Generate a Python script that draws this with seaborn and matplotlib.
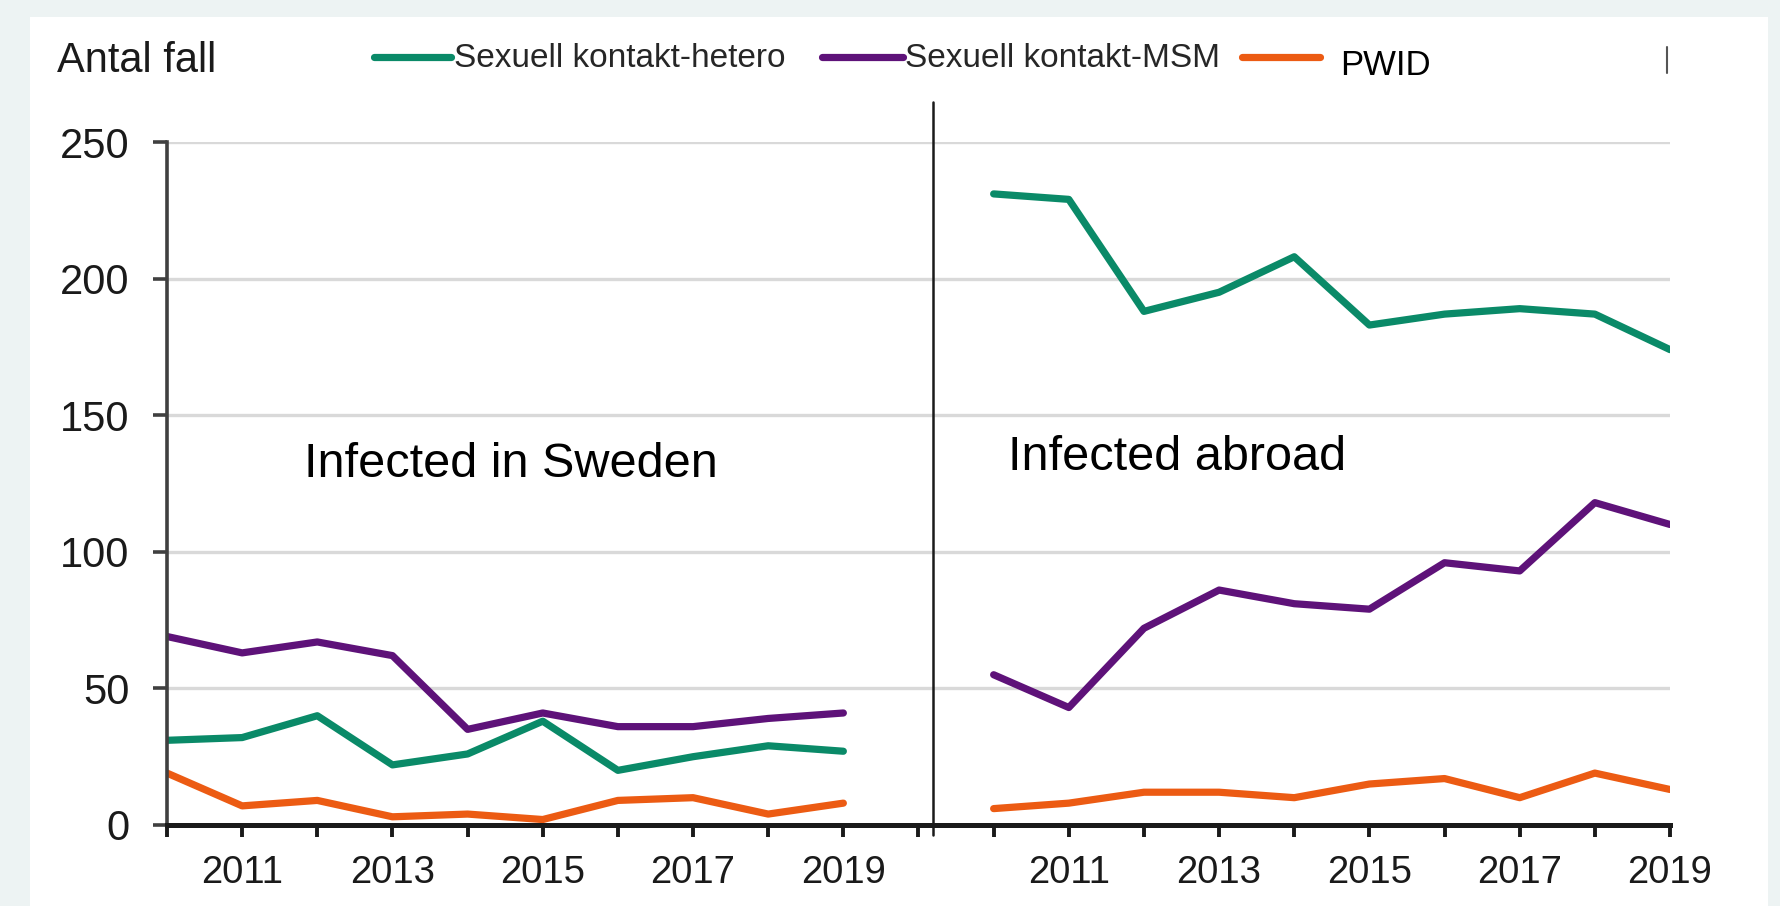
import matplotlib
matplotlib.use("Agg")
import numpy as np
import pandas as pd
import seaborn as sn
import matplotlib.pyplot as plt
from matplotlib.lines import Line2D
from matplotlib.patches import Rectangle

# data
years = list(range(2010, 2020))
series_names = ["Sexuell kontakt-hetero", "Sexuell kontakt-MSM", "PWID"]

sweden_hetero = [31, 32, 40, 22, 26, 38, 20, 25, 29, 27]
sweden_msm = [69, 63, 67, 62, 35, 41, 36, 36, 39, 41]
sweden_pwid = [19, 7, 9, 3, 4, 2, 9, 10, 4, 8]

abroad_hetero = [231, 229, 188, 195, 208, 183, 187, 189, 187, 174]
abroad_msm = [55, 43, 72, 86, 81, 79, 96, 93, 118, 110]
abroad_pwid = [6, 8, 12, 12, 10, 15, 17, 10, 19, 13]

left_labels = ["", "2011", "", "2013", "", "2015", "", "2017", "", "2019", ""]
right_labels = ["", "2011", "", "2013", "", "2015", "", "2017", "", "2019"]
yticks = [0, 50, 100, 150, 200, 250]

colors = ["#0A8A68", "#5E1279", "#EC5B13"]

# long table, right panel shifted one empty slot after the left one
rows = []
panels = [("Sweden", 0, [sweden_hetero, sweden_msm, sweden_pwid]),
          ("abroad", 11, [abroad_hetero, abroad_msm, abroad_pwid])]
for panel, offset, vals_list in panels:
    for name, vals in zip(series_names, vals_list):
        for yr, v in zip(years, vals):
            rows.append({"pos": yr - years[0] + offset, "value": v,
                         "series": name, "panel": panel})
df = pd.DataFrame(rows)

sn.set_style("white")
plt.rcParams["font.family"] = ["Liberation Sans", "DejaVu Sans"]

W, H = 1781, 906
fig = plt.figure(figsize=(W / 100, H / 100), dpi=100, facecolor="#EDF3F3")
fig.patches.append(Rectangle((30 / W, 0), (1768 - 30) / W, (906 - 17) / H,
                             transform=fig.transFigure, facecolor="white",
                             edgecolor="none", zorder=-10))

ax = fig.add_axes([167 / W, (H - 825) / H, (1670 - 167) / W, (825 - 142) / H])
ax.set_facecolor("none")

sn.lineplot(data=df, x="pos", y="value", hue="series", units="panel",
            estimator=None, hue_order=series_names, palette=colors,
            legend=False, ax=ax)
for line in ax.lines:
    line.set_linewidth(5.2)
    line.set_solid_joinstyle("round")

ax.set_xlim(0, 20)
ax.set_ylim(0, 250)
ax.set_xlabel("")
ax.set_ylabel("")

ax.set_yticks(yticks)
ax.set_yticklabels([str(t) for t in yticks])
ax.set_xticks(range(21))
ax.set_xticklabels(left_labels + right_labels)

ax.yaxis.grid(True, color="#D9D9D9", linewidth=2.4)
ax.xaxis.grid(False)
ax.set_axisbelow(True)

for s in ["top", "right"]:
    ax.spines[s].set_visible(False)
ax.spines["left"].set_color("#404040")
ax.spines["left"].set_linewidth(2.6)
ax.spines["bottom"].set_color("#1a1a1a")
ax.spines["bottom"].set_linewidth(3.6)

ax.tick_params(axis="y", direction="out", length=10, width=2.6, color="#404040",
               pad=17, labelsize=30, labelcolor="#1a1a1a", left=True)
ax.tick_params(axis="x", direction="out", length=8.5, width=2.8, color="#1a1a1a",
               pad=13, labelsize=27.5, labelcolor="#1a1a1a", bottom=True)

# divider between the two panels
ax.axvline(10.19, ymin=-0.015, ymax=1.0586, clip_on=False, color="#1a1a1a", lw=1.8)

# panel titles
ax.text(1.82, 127.4, "Infected in Sweden", fontsize=35, color="black", va="baseline")
ax.text(11.19, 130, "Infected abroad", fontsize=35, color="black", va="baseline")

# header: axis title and legend
fig.text(57 / W, 1 - 72 / H, "Antal fall", fontsize=30, color="#1a1a1a", va="baseline")

legend_items = [(374, 451, 454, 24, "#262626"),
                (822, 903, 905, 24, "#262626"),
                (1242, 1320, 1340, 25, "black")]
for (x0, x1, xt, fs, tc), name, col in zip(legend_items, series_names, colors):
    fig.add_artist(Line2D([x0 / W, x1 / W], [1 - 57 / H, 1 - 57 / H],
                          transform=fig.transFigure, color=col, lw=5.2))
    yb = 75 if name == "PWID" else 67
    fig.text(xt / W, 1 - yb / H, name, fontsize=fs, color=tc, va="baseline")

fig.add_artist(Line2D([1667 / W, 1667 / W], [1 - 47 / H, 1 - 73 / H],
                      transform=fig.transFigure, color="#555555", lw=1.5))

fig.savefig("out.png", dpi=100, facecolor=fig.get_facecolor())
